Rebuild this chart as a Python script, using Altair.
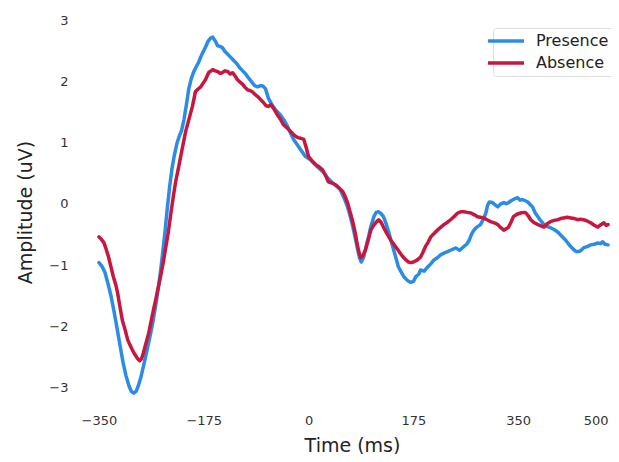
import altair as alt
import pandas as pd

presence_t = [-350,-345,-340,-335,-330,-325,-320,-315,-310,-305,-300,-296,-292,-288,-284,-280,-275,-270,-265,-260,
              -255,-250,-245,-240,-236,-232,-228,-224,-220,-216,-212,-208,-204,-200,-196,-192,-188,-184,-180,-176,
              -172,-168,-164,-160,-156,-152,-148,-144,-140,-135,-130,-125,-120,-115,-110,-105,-100,-95,-90,-85,
              -80,-76,-72,-67,-60,-55,-47,-40,-35,-30,-25,-18,-13,-5,3,10,15,25,32,40,
              48,53,60,65,70,74,78,82,85,88,92,96,100,104,109,113,117,121,125,130,
              134,138,142,146,150,155,159,165,170,175,179,184,187,193,199,204,209,215,221,227,
              232,239,246,252,259,264,268,272,276,281,287,292,296,299,302,307,312,316,321,326,
              330,334,338,342,346,349,353,357,362,366,370,374,378,383,388,393,398,404,410,416,
              422,429,436,443,447,451,455,459,465,471,477,483,488,491,495,500]
presence_v = [-0.96,-1.02,-1.12,-1.30,-1.50,-1.75,-2.02,-2.30,-2.58,-2.80,-2.97,-3.06,-3.09,-3.06,-2.96,-2.83,-2.62,-2.40,-2.17,-1.93,
              -1.64,-1.32,-0.92,-0.48,-0.08,0.28,0.58,0.80,0.98,1.10,1.20,1.38,1.62,1.88,2.04,2.15,2.23,2.30,2.40,2.48,
              2.56,2.65,2.70,2.72,2.66,2.58,2.57,2.55,2.49,2.44,2.39,2.34,2.29,2.22,2.17,2.12,2.05,1.99,1.93,1.91,
              1.93,1.92,1.88,1.72,1.60,1.53,1.45,1.35,1.26,1.15,1.05,0.95,0.88,0.77,0.72,0.65,0.60,0.51,0.42,0.34,
              0.28,0.23,0.08,-0.05,-0.22,-0.38,-0.56,-0.75,-0.88,-0.95,-0.87,-0.70,-0.54,-0.37,-0.21,-0.14,-0.13,-0.16,-0.21,-0.34,
              -0.47,-0.61,-0.75,-0.89,-1.03,-1.12,-1.19,-1.25,-1.28,-1.27,-1.19,-1.15,-1.08,-1.10,-1.03,-0.98,-0.92,-0.88,-0.83,-0.80,
              -0.78,-0.75,-0.72,-0.76,-0.70,-0.66,-0.60,-0.50,-0.43,-0.38,-0.34,-0.25,-0.15,-0.02,0.03,0.02,-0.02,-0.05,0.00,0.02,
              0.00,0.02,0.05,0.07,0.09,0.10,0.06,0.07,0.05,0.03,-0.01,-0.05,-0.14,-0.21,-0.28,-0.34,-0.37,-0.39,-0.42,-0.46,
              -0.52,-0.59,-0.68,-0.75,-0.78,-0.78,-0.76,-0.72,-0.70,-0.67,-0.66,-0.64,-0.65,-0.62,-0.66,-0.67]

absence_t = [-350,-346,-342,-338,-334,-330,-326,-322,-319,-315,-311,-306,-302,-298,-294,-290,-286,-282,-279,-276,
             -272,-267,-263,-259,-255,-251,-246,-242,-238,-234,-230,-226,-222,-217,-213,-209,-205,-200,-197,-194,
             -191,-189,-185,-180,-176,-172,-167,-163,-160,-156,-152,-148,-144,-140,-135,-131,-127,-123,-119,-115,
             -110,-106,-102,-98,-94,-90,-85,-80,-75,-71,-67,-63,-58,-52,-47,-42,-36,-30,-24,-18,
             -13,-8,-4,0,6,12,18,23,28,33,39,45,51,57,61,65,69,73,78,82,
             85,87,91,95,100,104,108,112,117,121,125,131,137,143,149,154,159,163,167,171,
             175,181,187,191,195,200,204,210,215,221,226,232,237,244,249,254,259,265,271,277,
             282,287,292,298,304,310,316,321,326,330,334,338,342,348,354,359,363,367,371,377,
             383,388,393,398,404,410,416,421,426,432,438,444,449,454,459,465,471,477,483,488,
             493,497,500]
absence_v = [-0.54,-0.58,-0.63,-0.74,-0.87,-1.03,-1.19,-1.32,-1.45,-1.68,-1.90,-2.07,-2.22,-2.31,-2.39,-2.46,-2.52,-2.56,-2.53,-2.44,
             -2.29,-2.11,-1.92,-1.73,-1.55,-1.36,-1.13,-0.92,-0.68,-0.45,-0.16,0.11,0.36,0.60,0.80,1.00,1.19,1.37,1.48,1.59,
             1.73,1.83,1.87,1.91,1.97,2.03,2.14,2.17,2.19,2.17,2.16,2.13,2.14,2.17,2.16,2.12,2.14,2.09,2.03,1.99,
             1.95,1.90,1.86,1.85,1.83,1.79,1.75,1.70,1.65,1.60,1.59,1.62,1.55,1.45,1.38,1.29,1.24,1.18,1.12,1.08,
             1.07,1.05,0.92,0.77,0.70,0.64,0.60,0.56,0.47,0.36,0.34,0.31,0.26,0.20,0.12,0.02,-0.12,-0.26,-0.48,-0.70,
             -0.82,-0.88,-0.84,-0.75,-0.58,-0.43,-0.36,-0.31,-0.26,-0.30,-0.38,-0.49,-0.59,-0.67,-0.75,-0.82,-0.88,-0.92,-0.95,-0.96,
             -0.95,-0.92,-0.87,-0.79,-0.70,-0.62,-0.54,-0.48,-0.43,-0.38,-0.34,-0.30,-0.26,-0.20,-0.15,-0.13,-0.13,-0.14,-0.15,-0.18,
             -0.21,-0.22,-0.23,-0.26,-0.29,-0.31,-0.34,-0.39,-0.43,-0.41,-0.38,-0.30,-0.21,-0.17,-0.15,-0.14,-0.15,-0.20,-0.26,-0.31,
             -0.34,-0.36,-0.38,-0.33,-0.29,-0.27,-0.26,-0.24,-0.23,-0.22,-0.23,-0.24,-0.26,-0.25,-0.26,-0.28,-0.31,-0.35,-0.38,-0.34,
             -0.31,-0.35,-0.34]

series_names = ["Presence", "Absence"]
series_colors = ["#2B8CE6", "#C8173F"]
x_ticks = [-350, -175, 0, 175, 350, 500]
y_ticks = [-3, -2, -1, 0, 1, 2, 3]

df = pd.concat([
    pd.DataFrame({"time": presence_t, "amp": presence_v, "cond": "Presence", "idx": range(len(presence_t))}),
    pd.DataFrame({"time": absence_t, "amp": absence_v, "cond": "Absence", "idx": range(len(absence_t))}),
])

FONT = "DejaVu Sans"

chart = alt.Chart(df).mark_line(strokeWidth=3.5, strokeJoin="round", strokeCap="round").encode(
    x=alt.X("time:Q",
            scale=alt.Scale(domain=[-365, 505], nice=False, zero=False),
            axis=alt.Axis(title="Time (ms)", values=x_ticks, format="d", labelPadding=8, labelFlush=6,
                          titleX=262, titleY=45, titleBaseline="alphabetic", titleAlign="center")),
    y=alt.Y("amp:Q",
            scale=alt.Scale(domain=[-3.3, 3.0], nice=False, zero=False),
            axis=alt.Axis(title="Amplitude (uV)", values=y_ticks, format="d", labelPadding=22,
                          titleX=-65, titleY=192, titleAngle=270, titleBaseline="middle", titleAlign="center")),
    color=alt.Color("cond:N",
                    scale=alt.Scale(domain=series_names, range=series_colors),
                    sort=series_names,
                    legend=alt.Legend(title=None, orient="none", legendX=403, legendY=8,
                                      symbolType="M-3,0H3", symbolSize=144, symbolStrokeWidth=3.5,
                                      labelFontSize=16, labelOffset=22, labelFont=FONT, labelColor="#222",
                                      padding=5, rowPadding=6,
                                      strokeColor="#dddddd", fillColor="white", cornerRadius=3)),
    order="idx:Q",
).properties(
    width=521, height=386,
    autosize=alt.AutoSizeParams(type="none"),
    padding={"left": 82, "top": 12, "right": 0, "bottom": 48},
).configure_view(stroke=None).configure_axis(
    domain=False, ticks=False, grid=False,
    labelFont=FONT, labelFontSize=13, labelColor="#333333",
    titleFont=FONT, titleFontSize=19, titleFontWeight="normal", titleColor="#222222",
)

chart.save("out.html", embed_options={"renderer": "svg", "actions": False})
